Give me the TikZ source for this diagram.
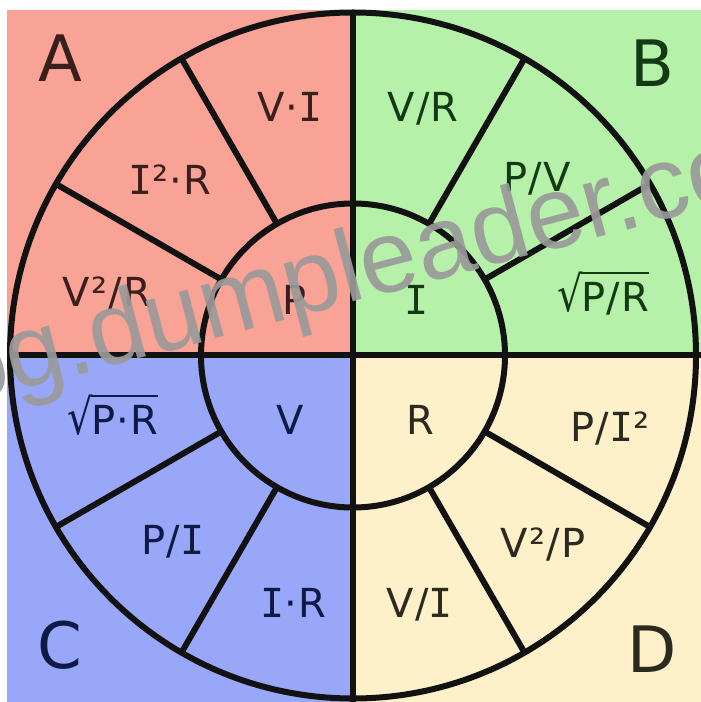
\documentclass[tikz,border=0pt]{standalone}
\usepackage{fontspec}
\usepackage{graphicx}
\usetikzlibrary{calc}
\setmainfont[LetterSpace=3]{DejaVu Sans}
\newfontfamily\serifI{DejaVu Sans Mono}
\newfontfamily\wmfont{Liberation Sans}
\newcommand\Ii{{\serifI I}}
\newcommand\radic[1]{\setbox0\hbox{#1}\setbox2\hbox{\scalebox{1}[1.22]{√}}\copy2\kern-0.04em\rlap{\rule[\dimexpr\ht2-0.06em\relax]{\wd0}{0.055em}}\box0}
\definecolor{qA}{HTML}{F9A296}
\definecolor{qB}{HTML}{B6F1A9}
\definecolor{qC}{HTML}{98A7F8}
\definecolor{qD}{HTML}{FEF0C8}
\definecolor{tA}{HTML}{3B1E1E}
\definecolor{tB}{HTML}{143A14}
\definecolor{tC}{HTML}{0E1A45}
\definecolor{tD}{HTML}{2A2A20}
\definecolor{ink}{HTML}{121212}
\definecolor{wm}{HTML}{9A9A9A}
\tikzset{
  lab/.style={anchor=base, inner sep=0pt, font=\fontsize{40}{44}\selectfont, yshift=-14.5pt},
  big/.style={anchor=base, inner sep=0pt, font=\fontsize{64}{70}\selectfont, yshift=-23pt},
  rim/.style={draw=ink, line width=6pt},
}
\begin{document}
\begin{tikzpicture}[x=1pt,y=1pt]
\useasboundingbox (0,0) rectangle (701,702);
\begin{scope}
\clip (0,0) rectangle (701,702);
% quadrants
\fill[qA] (7,346.5) rectangle (353,692);
\fill[qB] (353,346.5) rectangle (701,692);
\fill[qC] (7,0) rectangle (353,346.5);
\fill[qD] (353,0) rectangle (701,346.5);
\coordinate (O) at (353,346.5);
\coordinate (top) at (353,692);
\coordinate (bot) at (353,0);
\coordinate (lft) at (7,346.5);
\coordinate (rgt) at (701,346.5);
% circles
\draw[rim] (O) circle[radius=343pt];
\draw[rim] (O) circle[radius=152pt];
% dividers
\draw[rim] (top) -- (bot);
\draw[rim] (lft) -- (rgt);
% spokes
\foreach \a in {30,60,120,150,210,240,300,330}{
  \draw[rim] ($(O)+(\a:152pt)$) -- ($(O)+(\a:343pt)$);
}
% labels A
\node[big,text=tA] (LA) at (60,643) {A};
\node[lab,text=tA] (a1) at (290,595) {V·\Ii};
\node[lab,text=tA] (a2) at (170,522) {\Ii²·R};
\node[lab,text=tA] (a3) at (107,410) {V²/R};
\node[lab,text=tA] (a0) at (295,402) {P};
% labels B
\node[big,text=tB] (LB) at (652,638) {B};
\node[lab,text=tB] (b1) at (423,595) {V/R};
\node[lab,text=tB] (b2) at (537,525) {P/V};
\node[lab,text=tB] (b3) at (603,405) {\radic{P/R}};
\node[lab,text=tB] (b0) at (417,402) {\Ii};
% labels C
\node[big,text=tC] (LC) at (60,56) {C};
\node[lab,text=tC] (c1) at (113,282) {\radic{P·R}};
\node[lab,text=tC] (c0) at (290,282) {V};
\node[lab,text=tC] (c2) at (173,162) {P/\Ii};
\node[lab,text=tC] (c3) at (293,99) {\Ii·R};
% labels D
\node[big,text=tD] (LD) at (652,53) {D};
\node[lab,text=tD] (d0) at (420,282) {R};
\node[lab,text=tD] (d1) at (610,275) {P/\Ii²};
\node[lab,text=tD] (d2) at (543,159) {V²/P};
\node[lab,text=tD] (d3) at (420,99) {V/\Ii};
% watermark
\node[rotate=14.8, anchor=base, inner sep=0pt, text=wm, text opacity=0.92,
      font=\wmfont\fontsize{103}{110}\selectfont] (wmk) at (358,401) {blog.dumpleader.com};
\end{scope}
\end{tikzpicture}
\end{document}
